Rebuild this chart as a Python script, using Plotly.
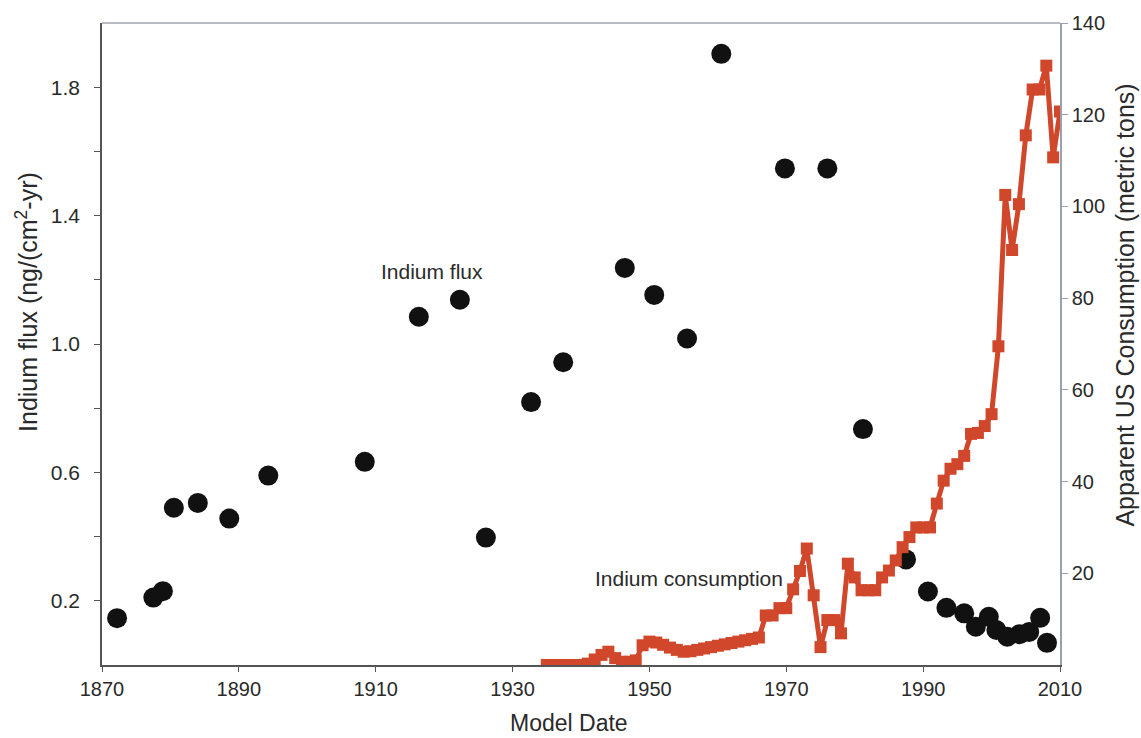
import plotly.graph_objects as go

# Indium flux (left axis)
flux_year = [1872.2, 1877.5, 1878.9, 1880.5, 1884.0, 1888.6, 1894.3, 1908.4, 1916.3, 1922.3,
             1926.1, 1932.7, 1937.4, 1946.4, 1950.7, 1955.5, 1960.5, 1969.8, 1976.0, 1981.2,
             1987.5, 1990.7, 1993.4, 1996.0, 1997.7, 1999.6, 2000.7, 2002.3, 2004.1, 2005.5,
             2007.1, 2008.1]
flux_val = [0.146, 0.21, 0.23, 0.49, 0.505, 0.456, 0.59, 0.633, 1.085, 1.138,
            0.397, 0.819, 0.943, 1.237, 1.153, 1.017, 1.904, 1.547, 1.547, 0.735,
            0.329, 0.229, 0.178, 0.161, 0.119, 0.150, 0.109, 0.088, 0.096, 0.103,
            0.147, 0.069]

# Apparent US consumption (right axis)
cons_year = list(range(1935, 2011))
cons_val = [0, 0, 0, 0, 0, 0, 0.3, 1.2, 2.2, 2.9,
            1.5, 0.7, 0.7, 1.0, 4.3, 5.1, 4.9, 4.4, 3.8, 3.3,
            2.9, 3.0, 3.3, 3.6, 3.9, 4.2, 4.5, 4.8, 5.1, 5.4,
            5.7, 6.0, 10.8, 10.8, 12.4, 12.4, 16.5, 20.5, 25.4, 15.2,
            3.9, 9.8, 9.8, 6.9, 22.1, 19.1, 16.3, 16.3, 16.3, 19.1,
            20.6, 22.8, 25.7, 27.9, 30.0, 30.0, 30.0, 35.2, 40.2, 42.8,
            43.8, 45.6, 50.4, 50.6, 52.1, 54.7, 69.5, 102.5, 90.5, 100.5,
            115.5, 125.5, 125.5, 130.7, 110.7, 120.7]

x_ticks = [1870, 1890, 1910, 1930, 1950, 1970, 1990, 2010]
y1_ticks = [0.2, 0.6, 1.0, 1.4, 1.8]
y1_labels = ["0.2", "0.6", "1.0", "1.4", "1.8"]
y1_minor = [0.4, 0.8, 1.2, 1.6]
y2_ticks = [20, 40, 60, 80, 100, 120, 140]

RED = "#d0472b"
FONT = "Liberation Sans, Arial, sans-serif"
TXT = "#2a2a2a"

fig = go.Figure()
fig.add_trace(go.Scatter(x=flux_year, y=flux_val, mode="markers",
                         marker=dict(size=20, color="#111111"), yaxis="y",
                         name="Indium flux", showlegend=False))
fig.add_trace(go.Scatter(x=cons_year, y=cons_val, mode="lines+markers",
                         line=dict(color=RED, width=5),
                         marker=dict(symbol="square", size=12, color=RED),
                         yaxis="y2", name="Indium consumption", showlegend=False))

# in-plot labels
fig.add_annotation(x=1918.2, y=1.225, xref="x", yref="y", text="Indium flux",
                   showarrow=False, font=dict(family=FONT, size=21, color=TXT))
fig.add_annotation(x=1955.8, y=0.27, xref="x", yref="y", text="Indium consumption",
                   showarrow=False, font=dict(family=FONT, size=21, color=TXT))

# axis titles
fig.add_annotation(x=-0.079, y=0.566, xref="paper", yref="paper",
                   text="Indium flux (ng/(cm<sup>2</sup>-yr)", textangle=-90,
                   showarrow=False, xanchor="center", yanchor="middle",
                   font=dict(family=FONT, size=25, color=TXT))
fig.add_annotation(x=1.068, y=0.56, xref="paper", yref="paper",
                   text="Apparent US Consumption (metric tons)", textangle=-90,
                   showarrow=False, xanchor="center", yanchor="middle",
                   font=dict(family=FONT, size=25, color=TXT))
fig.add_annotation(x=0.4875, y=-0.09, xref="paper", yref="paper",
                   text="Model Date", showarrow=False, xanchor="center", yanchor="middle",
                   font=dict(family=FONT, size=23, color=TXT))

fig.add_shape(type="line", xref="paper", yref="paper", x0=0, x1=1, y0=1, y1=1,
              line=dict(color="#a0a4ac", width=1.5))

fig.update_layout(
    width=1141, height=738,
    margin=dict(l=102, r=81, t=20, b=73),
    paper_bgcolor="white", plot_bgcolor="white",
    font=dict(family=FONT, size=20, color=TXT),
    xaxis=dict(range=[1870, 2010], tickvals=x_ticks, ticks="outside", ticklen=5,
               showgrid=False, zeroline=False, showline=True, linecolor="#555555",
               linewidth=1.5, tickcolor="#555555", tickfont=dict(size=20)),
    yaxis=dict(range=[0, 2.0], tickvals=y1_ticks, ticktext=y1_labels,
               ticks="outside", ticklen=6, tickcolor="#555555", ticklabelstandoff=10,
               minor=dict(tickvals=y1_minor, ticks="outside", ticklen=6, tickcolor="#555555"),
               showgrid=False, zeroline=False, showline=True, linecolor="#555555",
               linewidth=1.5, tickfont=dict(size=21)),
    yaxis2=dict(range=[0, 140], tickvals=y2_ticks, overlaying="y", side="right",
                ticks="outside", ticklen=6, tickcolor="#9aa0ae",
                showgrid=False, zeroline=False, showline=True, linecolor="#9aa0ae",
                linewidth=1.5, tickfont=dict(size=20)),
)

fig.write_html("out.html")
